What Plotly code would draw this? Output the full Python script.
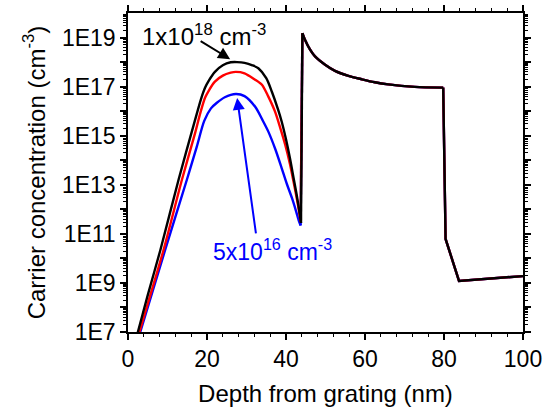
import plotly.graph_objects as go

# Depth (nm) and carrier concentration (cm^-3) in the implanted layer, per doping level
depth_hi = [0, 2.5, 5.0, 8.2, 12.8, 17.0, 18.5, 19.5, 20.5, 22.0, 24.0, 26.0, 27.6,
            29.5, 31.5, 33.0, 35.0, 36.4, 38.0, 38.9, 40.0, 41.0, 42.0, 42.7, 43.3, 43.8]
conc_hi = [3.2e5, 1.0e7, 3.2e8, 2.2e10, 1.6e13, 4.5e15, 3.2e16, 9.0e16, 1.8e17, 4.0e17,
           7.4e17, 9.8e17, 1.0e18, 9.3e17, 7.4e17, 5.6e17, 2.2e17, 6.3e16, 1.15e16,
           3.8e15, 7.1e14, 1.2e14, 1.6e13, 3.9e12, 1.0e12, 2.8e11]

depth_mid = [0, 2.9, 9.0, 13.65, 17.0, 18.3, 19.5, 20.5, 22.0, 24.0, 26.0, 27.3, 29.5,
             32.0, 33.9, 35.5, 37.2, 38.5, 39.8, 41.0, 41.9, 43.0, 43.7]
conc_mid = [2.0e5, 1.0e7, 2.2e10, 1.6e13, 1.3e15, 8.3e15, 3.5e16, 7.1e16, 1.6e17, 2.8e17,
            3.7e17, 4.0e17, 3.5e17, 2.0e17, 1.2e17, 4.0e16, 9.8e15, 2.2e15, 4.3e14,
            7.1e13, 1.35e13, 1.6e12, 3.2e11]

depth_lo = [0, 3.1, 9.4, 14.9, 17.4, 19.3, 21.0, 22.5, 24.5, 27.3, 29.5, 32.2, 34.0,
            35.5, 37.3, 38.9, 40.2, 41.5, 42.5, 43.3, 43.7]
conc_lo = [2.3e5, 1.0e7, 2.2e10, 1.6e13, 3.5e14, 4.0e15, 1.3e16, 2.2e16, 3.7e16, 5.0e16,
           4.1e16, 1.5e16, 4.5e15, 1.5e15, 2.8e14, 4.8e13, 1.1e13, 2.9e12, 8.9e11,
           3.2e11, 2.2e11]

# Common profile beyond the implanted layer (identical for all doping levels)
depth_decay = [44.15, 44.8, 46.1, 47.35, 49.9, 52.4, 55.8, 59.15, 62.5, 65.9, 72.6, 79.8]
conc_decay = [1.5e19, 8.1e18, 3.2e18, 1.7e18, 7.8e17, 4.4e17, 2.75e17, 2.0e17, 1.5e17,
              1.23e17, 9.8e16, 9.1e16]
depth_drop = [80.4, 83.8, 100]
conc_drop = [6.2e10, 1.2e9, 1.9e9]

series = [
    ("5x10^16", depth_lo, conc_lo, "#0000ff"),
    ("mid", depth_mid, conc_mid, "#ff0000"),
    ("1x10^18", depth_hi, conc_hi, "#000000"),
]

y_tick_exp = list(range(7, 20))
y_tick_text = ["1E%d" % e if e % 2 == 1 else "" for e in y_tick_exp]

FONT = "Liberation Sans, Arial, sans-serif"
LW = 2.4

fig = go.Figure()
for name, xs, ys, color in series:
    line_s = dict(color=color, width=LW, shape="spline", smoothing=0.8)
    line_l = dict(color=color, width=LW)
    # smooth implant peak
    fig.add_trace(go.Scatter(x=xs, y=ys, mode="lines", name=name, line=line_s))
    # step up into the surface layer
    fig.add_trace(go.Scatter(x=[xs[-1], depth_decay[0]], y=[ys[-1], conc_decay[0]],
                             mode="lines", name=name, line=line_l))
    # decaying plateau
    fig.add_trace(go.Scatter(x=depth_decay, y=conc_decay, mode="lines", name=name, line=line_s))
    # drop and substrate level
    fig.add_trace(go.Scatter(x=[depth_decay[-1]] + depth_drop, y=[conc_decay[-1]] + conc_drop,
                             mode="lines", name=name, line=line_l))

axis_common = dict(
    showline=True, linecolor="black", linewidth=1.5, mirror="allticks",
    ticks="outside", ticklen=6, tickwidth=1.5, tickcolor="black",
    showgrid=False, zeroline=False, automargin=False,
    tickfont=dict(family=FONT, size=23, color="black"),
)

fig.update_xaxes(
    range=[0, 100], tickmode="array", tickvals=[0, 20, 40, 60, 80, 100],
    minor=dict(dtick=4, ticks="outside", ticklen=3.5, tickwidth=1, tickcolor="black"),
    title=dict(text="Depth from grating (nm)", font=dict(family=FONT, size=24), standoff=14),
    **axis_common,
)
fig.update_yaxes(
    type="log", range=[7, 20], tickmode="array",
    tickvals=[10.0 ** e for e in y_tick_exp], ticktext=y_tick_text,
    minor=dict(tickmode="array",
               tickvals=[k * 10.0 ** e for e in range(7, 20) for k in range(2, 10)],
               ticks="outside", ticklen=3.5, tickwidth=1, tickcolor="black"),
    title=dict(text="Carrier concentration (cm<sup>-3</sup>)",
               font=dict(family=FONT, size=24), standoff=10),
    **axis_common,
)

# Labels with arrows pointing to the peaks
fig.add_annotation(x=3.0, y=19.1, xref="x", yref="y", text="1x10<sup>18</sup> cm<sup>-3</sup>",
                   showarrow=False, xanchor="left", yanchor="middle",
                   font=dict(family=FONT, size=24, color="black"))
fig.add_annotation(x=25.86, y=18.12, xref="x", yref="y", text="", showarrow=True,
                   ax=-31, ay=-19, arrowhead=2, arrowsize=1.2, arrowwidth=2, arrowcolor="black")
fig.add_annotation(x=21.0, y=10.35, xref="x", yref="y", text="5x10<sup>16</sup> cm<sup>-3</sup>",
                   showarrow=False, xanchor="left", yanchor="middle",
                   font=dict(family=FONT, size=23, color="#0000ff"))
fig.add_annotation(x=27.63, y=16.54, xref="x", yref="y", text="", showarrow=True,
                   ax=19, ay=137, arrowhead=2, arrowsize=1.2, arrowwidth=2, arrowcolor="#0000ff")

fig.update_layout(
    width=543, height=408, margin=dict(l=128, r=20, t=13, b=76),
    plot_bgcolor="white", paper_bgcolor="white", showlegend=False,
    font=dict(family=FONT, size=23, color="black"),
)

fig.write_html("out.html")
